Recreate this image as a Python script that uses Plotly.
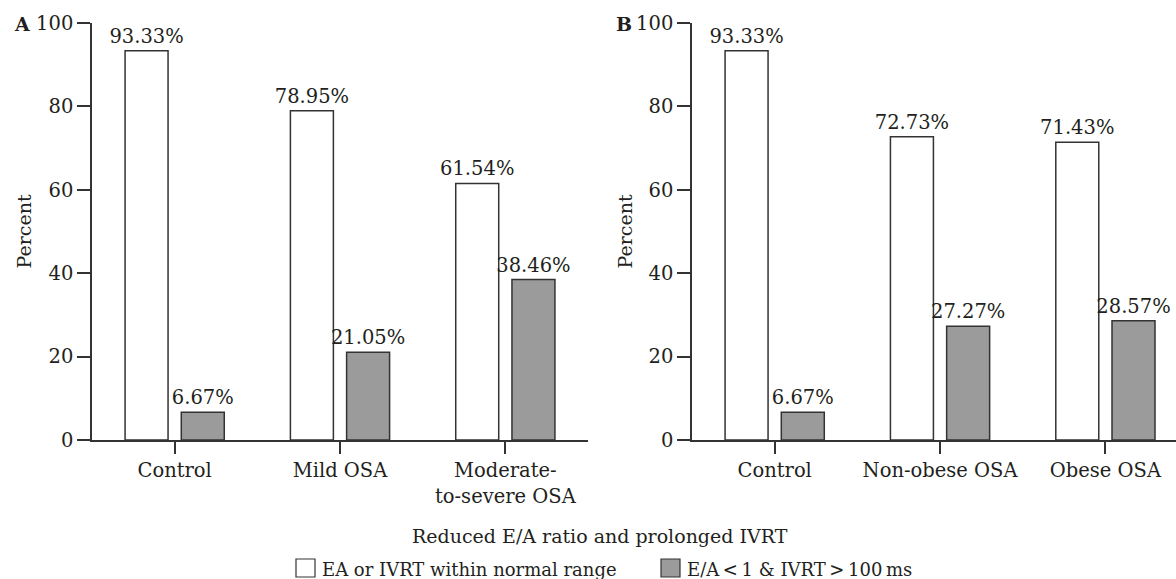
import plotly.graph_objects as go

# ---- data ----
cats_a = ["Control", "Mild OSA", "Moderate-<br>to-severe OSA"]
normal_a = [93.33, 78.95, 61.54]
reduced_a = [6.67, 21.05, 38.46]

cats_b = ["Control", "Non-obese OSA", "Obese OSA"]
normal_b = [93.33, 72.73, 71.43]
reduced_b = [6.67, 27.27, 28.57]

series_names = ["EA or IVRT within normal range",
                "E/A\u2009<\u20091 & IVRT\u2009>\u2009100\u2009ms"]
legend_title = "Reduced E/A ratio and prolonged IVRT"
y_ticks = [0, 20, 40, 60, 80, 100]

# ---- style ----
FONT = "DejaVu Serif"
TXT = "#231f20"
LINE = "#333333"
GRAY = "#9b9b9b"
W, H = 1176, 579
ML, MR, MT, MB = 0, 0, 23, 139
PH = H - MT - MB

def px_x(X):
    return X / W

def px_y(Y):
    return (H - MB - Y) / PH

fig = go.Figure()

def add_panel(cats, normal, reduced, xa, ya):
    for vals, fill, off in ((normal, "white", -0.30), (reduced, GRAY, 0.04)):
        fig.add_trace(go.Bar(
            x=cats, y=vals, xaxis=xa, yaxis=ya,
            width=0.26, offset=off,
            marker=dict(color=fill, line=dict(color=LINE, width=1.5)),
            texttemplate="%{y:.2f}%", textposition="outside",
            textangle=0, constraintext="none", cliponaxis=False,
            textfont=dict(family=FONT, size=19.5, color=TXT),
            showlegend=False, hoverinfo="skip",
        ))

add_panel(cats_a, normal_a, reduced_a, "x", "y")
add_panel(cats_b, normal_b, reduced_b, "x2", "y2")

xcommon = dict(type="category", showline=True, linecolor=LINE, linewidth=1.5,
               ticks="outside", ticklen=12, tickwidth=1.5, tickcolor=LINE,
               showgrid=False, zeroline=False,
               tickfont=dict(family=FONT, size=19.5, color=TXT))
ycommon = dict(range=[0, 100], tickvals=y_ticks, showline=True, linecolor=LINE,
               linewidth=1.5, ticks="outside", ticklen=13, tickwidth=1.5,
               tickcolor=LINE, showgrid=False, zeroline=False,
               tickfont=dict(family=FONT, size=19.5, color=TXT))

fig.update_layout(
    width=W, height=H,
    margin=dict(l=ML, r=MR, t=MT, b=MB),
    paper_bgcolor="white", plot_bgcolor="white",
    barmode="overlay",
    showlegend=False,
    xaxis=dict(domain=[px_x(92), px_x(588)], range=[-0.5, 2.5], anchor="y", **xcommon),
    yaxis=dict(domain=[0, 1], anchor="x", **ycommon),
    xaxis2=dict(domain=[px_x(692), 1.0], range=[-0.5, 2.427], anchor="y2", **xcommon),
    yaxis2=dict(domain=[0, 1], anchor="x2", **ycommon),
)

ann = []
# y titles
for X in (23, 624):
    ann.append(dict(text="Percent", x=px_x(X), y=0.5, xref="paper", yref="paper",
                    textangle=-90, showarrow=False, xanchor="center", yanchor="middle",
                    font=dict(family=FONT, size=19, color=TXT)))
# panel letters
for X, L in ((12, "A"), (614, "B")):
    ann.append(dict(text="<b>%s</b>" % L, x=px_x(X), y=px_y(24), xref="paper", yref="paper",
                    showarrow=False, xanchor="left", yanchor="middle",
                    font=dict(family=FONT, size=19, color=TXT)))
# legend title
ann.append(dict(text=legend_title, x=px_x(600), y=px_y(536), xref="paper", yref="paper",
                showarrow=False, xanchor="center", yanchor="middle",
                font=dict(family=FONT, size=19, color=TXT)))
# legend items
legend_items = [(296, "white", series_names[0]), (661, GRAY, series_names[1])]
shapes = []
for X, fill, name in legend_items:
    shapes.append(dict(type="rect", xref="paper", yref="paper",
                       x0=px_x(X), x1=px_x(X + 19), y0=px_y(559), y1=px_y(577),
                       fillcolor=fill, line=dict(color=LINE, width=1.2)))
    ann.append(dict(text=name, x=px_x(X + 24), y=px_y(569), xref="paper", yref="paper",
                    showarrow=False, xanchor="left", yanchor="middle",
                    font=dict(family=FONT, size=18, color=TXT)))

fig.update_layout(annotations=ann, shapes=shapes)
fig.write_html("out.html", config={"displayModeBar": False},
               post_script="document.body.style.margin='0';document.body.style.overflow='hidden';")
